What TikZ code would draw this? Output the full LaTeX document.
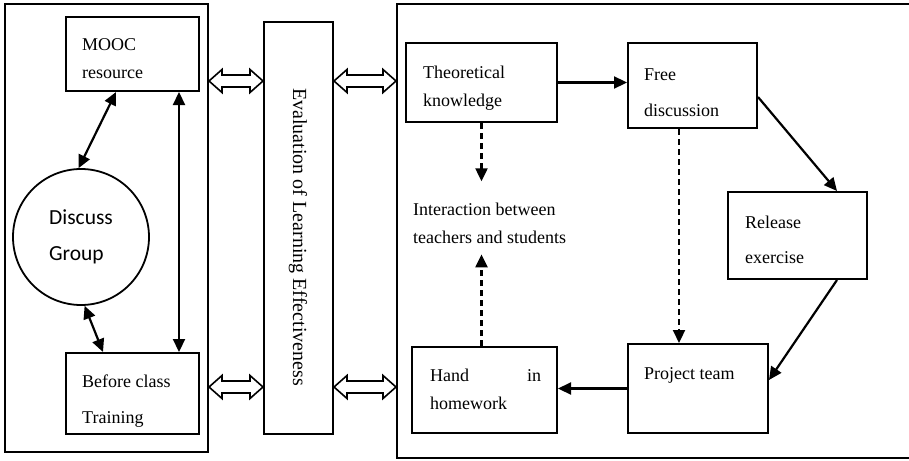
\documentclass[tikz,border=0pt]{standalone}
\usepackage{fontspec}
\setmainfont{Liberation Serif}
\newfontfamily\grpfont{Carlito}
\usetikzlibrary{arrows.meta,calc,positioning}
\newcommand{\boxfont}{\fontsize{18}{28}\selectfont}
\tikzset{
	%Define style for boxes
	box/.style={
	       draw=black,
	       rectangle,
	       line width=2pt,
	       inner sep=0pt},
	circ/.style={
	       draw=black,
	       circle,
	       line width=1.8pt,
	       inner sep=0pt,
	       minimum size=136pt,
	       align=left,
	       font=\grpfont\fontsize{21.5}{36}\selectfont},
	txt/.style={
	       anchor=base west,
	       inner sep=0pt,
	       align=left,
	       font=\boxfont},
	% Define arrow styles
	arr/.style={
	       -{Triangle[length=13pt,width=12pt]},
	       line width=2.2pt},
	biarr/.style={
	       {Triangle[length=13pt,width=12pt]}-{Triangle[length=13pt,width=12pt]},
	       line width=2.2pt},
	darr/.style={
	       arr,
	       dash pattern=on 6pt off 4pt},
	blk/.style={
	       line width=1.6pt,
	       line join=miter}
}
% hollow double arrow between two points
\newcommand{\blockarr}[2]{%
	\draw[blk] (#1) -- ++(13,-11.5) -- ++(0,5.5) -- ($(#2)+(-13,-6)$) -- ++(0,-5.5)
	  -- (#2) -- ++(-13,11.5) -- ++(0,-5.5) -- ($(#1)+(13,6)$) -- ++(0,5.5) -- cycle;}
\begin{document}
\begin{tikzpicture}[x=1pt,y=-1pt]
	\useasboundingbox (0,0) rectangle (909,460);
	% outer frames
	\node[box, minimum width=203pt, minimum height=448pt](lbox) at (106.5,228){};
	\node[box, minimum width=519pt, minimum height=454pt](rbox) at (656.5,231){};
	% left part
	\node[box, minimum width=133pt, minimum height=74pt](mooc) at (132.5,54){};
	\node[box, minimum width=133pt, minimum height=81pt](before) at (132.5,393.5){};
	\node[circ](group) at (81,237){Discuss\\Group};
	% base of a two-line text is its last line
	\node[txt](mooc_txt) at (82,78){MOOC\\resource};
	\node[txt](before_txt) at (82,423){Before class\\[8pt]Training};
	% evaluation column
	\node[box, minimum width=69pt, minimum height=412pt](eval) at (298.5,228){};
	\node[rotate=-90, inner sep=0pt, font=\fontsize{20}{24}\selectfont](eval_txt) at (298,237){Evaluation of Learning Effectiveness};
	% right part
	\node[box, minimum width=151pt, minimum height=79pt](theo) at (481.5,82.5){};
	\node[box, minimum width=129pt, minimum height=85pt](free) at (692.5,85.5){};
	\node[box, minimum width=139pt, minimum height=87pt](rel) at (797.5,235.5){};
	\node[box, minimum width=140pt, minimum height=89pt](proj) at (698,388.5){};
	\node[box, minimum width=145pt, minimum height=86pt](hand) at (484.5,390){};
	\node[txt](theo_txt) at (423,106){Theoretical\\knowledge};
	\node[txt](free_txt) at (644,116){Free\\[8pt]discussion};
	\node[txt](rel_txt) at (745,263){Release\\[7pt]exercise};
	\node[txt](proj_txt) at (644,379){Project team};
	% with a text width the base is the first line
	\node[txt, text width=111pt](hand_txt) at (430,381){Hand\hfill in\\homework};
	\node[txt](inter) at (413,243){Interaction between\\teachers and students};
	% connectors, left
	\draw[biarr] ($(mooc.south)+(-16.5,0)$) -- (group.92.5);
	\draw[biarr] (group.-87.5) -- ($(before.north)+(-29.5,0)$);
	\draw[biarr] ($(mooc.south)+(46.5,0)$) coordinate (mv) -- (mv |- before.north);
	% hollow arrows to the evaluation column
	\coordinate (upper) at (0,81);
	\coordinate (lower) at (0,387);
	\blockarr{lbox.east |- upper}{eval.west |- upper}
	\blockarr{lbox.east |- lower}{eval.west |- lower}
	\blockarr{eval.east |- upper}{rbox.west |- upper}
	\blockarr{eval.east |- lower}{rbox.west |- lower}
	% connectors, right
	\draw[arr] (theo.east) -- (theo.east -| free.west);
	\draw[arr] ($(free.east)+(0,11.5)$) -- ($(rel.north)+(39.5,0)$);
	\draw[arr] ($(rel.south)+(39.5,0)$) -- ($(proj.east)+(0,-8.5)$);
	\draw[arr] (proj.west) -- (proj.west -| hand.east);
	\draw[darr, shorten >=21pt] (theo.south) -- (theo.south |- inter.north);
	\draw[darr, shorten >=11pt] (hand.north -| theo.south) -- (theo.south |- inter.south);
	\draw[darr] ($(free.south)+(-13.5,0)$) coordinate (fd) -- (fd |- proj.north);
\end{tikzpicture}
\end{document}
